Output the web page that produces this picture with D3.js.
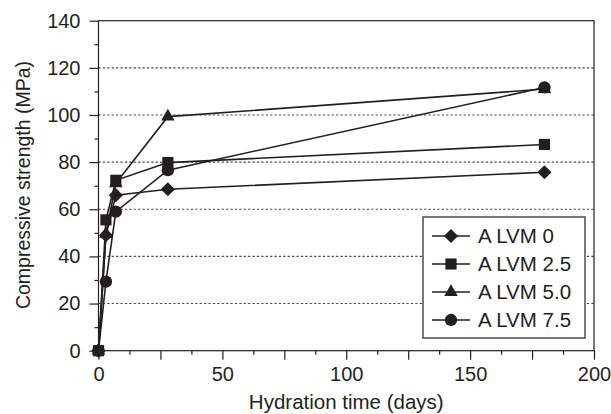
<!DOCTYPE html>
<html>
<head>
<meta charset="utf-8">
<script src="https://cdn.jsdelivr.net/npm/d3@7"></script>
<style>
  body { margin: 0; background: #fff; }
  text { font-family: "Liberation Sans", Arial, sans-serif; fill: #231f20; }
</style>
</head>
<body>
<svg id="chart" width="611" height="414"></svg>
<script>
// hydration days and strengths (MPa)
const days = [0, 3, 7, 28, 180];
const lvm0 = [0, 49, 66, 68.5, 75.7];
const lvm25 = [0, 55.5, 72.3, 79.8, 87.5];
const lvm50 = [0, 49.5, 71, 99.3, 111];
const lvm75 = [0, 29.3, 59, 76.6, 111.7];
const seriesNames = ["A LVM 0", "A LVM 2.5", "A LVM 5.0", "A LVM 7.5"];
const yTickLabels = [0, 20, 40, 60, 80, 100, 120, 140];
const xTickLabels = [0, 50, 100, 150, 200];

const svg = d3.select("#chart"),
    margin = {top: 20.7, right: 17, bottom: 63.3, left: 98.5},
    width = +svg.attr("width") - margin.left - margin.right,
    height = +svg.attr("height") - margin.top - margin.bottom;

const ink = "#231f20";
const g = svg.append("g").attr("transform", `translate(${margin.left},${margin.top})`);

const x = d3.scaleLinear().domain([0, 200]).range([0, width]);
const y = d3.scaleLinear().domain([0, 140]).range([height, 0]);

// marker shapes: diamond is a square turned 45 degrees
const markers = [
    {type: d3.symbolSquare, size: 100, rot: 45},
    {type: d3.symbolSquare, size: 125, rot: 0},
    {type: d3.symbolTriangle, size: 80, rot: 0},
    {type: d3.symbolCircle, size: 120, rot: 0}
];

// dotted grid
g.selectAll("line.grid")
    .data(yTickLabels.filter(v => v > 0 && v < 140))
    .enter().append("line")
    .attr("class", "grid")
    .attr("x1", 0).attr("x2", width)
    .attr("y1", d => y(d)).attr("y2", d => y(d))
    .attr("stroke", "#444").attr("stroke-width", 1.1)
    .attr("stroke-dasharray", "2.2,2.2");

// frame
g.append("rect")
    .attr("width", width).attr("height", height)
    .attr("fill", "none").attr("stroke", ink).attr("stroke-width", 1.2);

// y axis: minor ticks every 10
const yMinor = g.append("g").call(d3.axisLeft(y).tickValues(d3.range(10, 140, 20)).tickSize(4).tickFormat(""));
const yAxis = g.append("g").call(d3.axisLeft(y).tickValues(yTickLabels).tickSize(9).tickPadding(9));
[yMinor, yAxis].forEach(a => {
    a.select(".domain").remove();
    a.selectAll("line").attr("stroke", ink).attr("stroke-width", 1.2);
});
yAxis.selectAll("text").style("font-size", "20px").attr("fill", ink);

// x axis: minor ticks every 12.5, major every 25, labels every 50
const xMinor = g.append("g").attr("transform", `translate(0,${height})`)
    .call(d3.axisBottom(x).tickValues(d3.range(12.5, 200, 25)).tickSize(4).tickFormat(""));
const xAxis = g.append("g").attr("transform", `translate(0,${height})`)
    .call(d3.axisBottom(x).tickValues(d3.range(0, 201, 25)).tickSize(9).tickPadding(7)
        .tickFormat(d => xTickLabels.includes(d) ? d : ""));
[xMinor, xAxis].forEach(a => {
    a.select(".domain").remove();
    a.selectAll("line").attr("stroke", ink).attr("stroke-width", 1.2);
});
xAxis.selectAll("text").style("font-size", "20px").attr("fill", ink);

// axis titles
svg.append("text")
    .attr("x", margin.left + width / 2).attr("y", 409)
    .attr("text-anchor", "middle").style("font-size", "20.5px")
    .text("Hydration time (days)");
svg.append("text")
    .attr("transform", "translate(30,185) rotate(-90)")
    .attr("text-anchor", "middle").style("font-size", "19.5px")
    .text("Compressive strength (MPa)");

// series
const allSeries = [lvm0, lvm25, lvm50, lvm75];
const line = d3.line().x((d, i) => x(days[i])).y(d => y(d));

allSeries.forEach((vals) => {
    g.append("path")
        .datum(vals)
        .attr("d", line)
        .attr("fill", "none").attr("stroke", ink).attr("stroke-width", 1.6);
});
allSeries.forEach((vals, s) => {
    const m = markers[s];
    g.selectAll(`path.m${s}`)
        .data(vals)
        .enter().append("path")
        .attr("class", `m${s}`)
        .attr("transform", (d, i) => `translate(${x(days[i])},${y(d)}) rotate(${m.rot})`)
        .attr("d", d3.symbol().type(m.type).size(m.size))
        .attr("fill", ink);
});

// legend
const legend = svg.append("g").attr("transform", "translate(423,217)");
legend.append("rect")
    .attr("width", 162).attr("height", 121)
    .attr("fill", "#fff").attr("stroke", ink).attr("stroke-width", 1.2);
seriesNames.forEach((name, s) => {
    const m = markers[s];
    const row = legend.append("g").attr("transform", `translate(0,${19 + s * 28})`);
    row.append("line").attr("x1", 9).attr("x2", 47)
        .attr("stroke", ink).attr("stroke-width", 1.6);
    row.append("path").attr("transform", `translate(28,0) rotate(${m.rot})`)
        .attr("d", d3.symbol().type(m.type).size(m.size))
        .attr("fill", ink);
    row.append("text").attr("x", 55).attr("dy", "0.36em")
        .style("font-size", "20.5px").text(name);
});
</script>
</body>
</html>
